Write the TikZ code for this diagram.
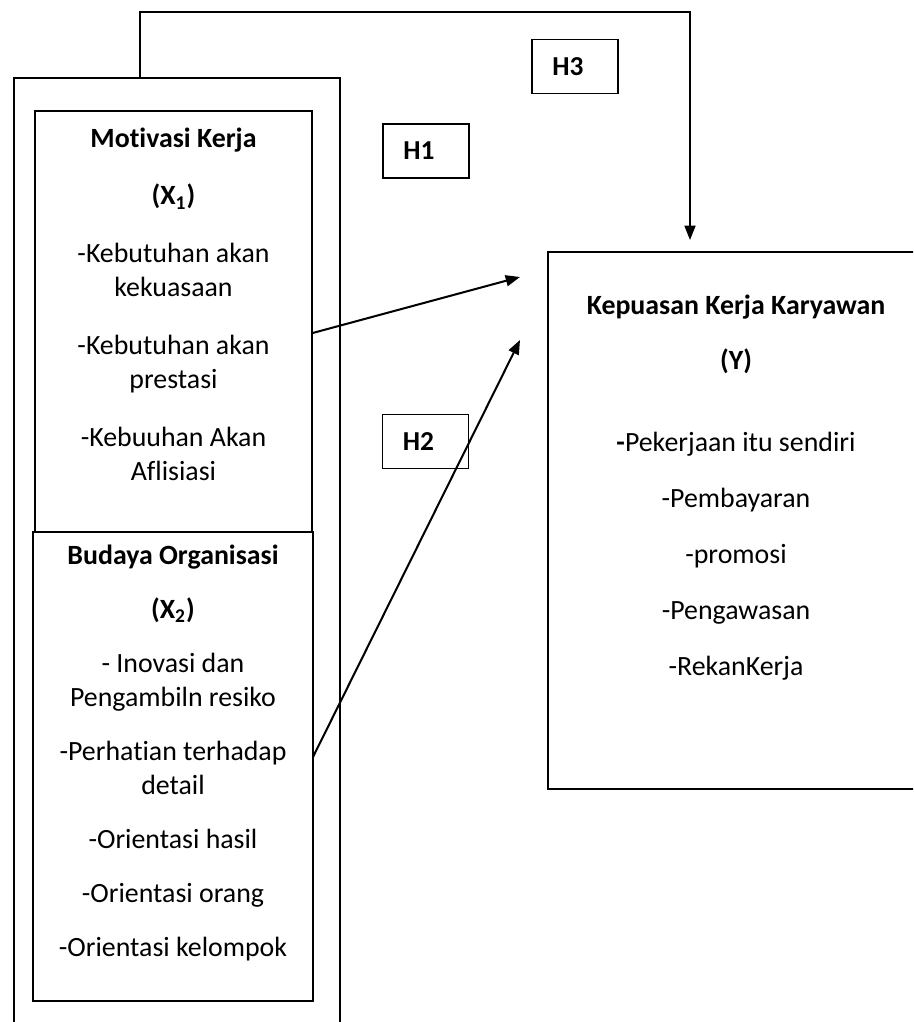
\documentclass[tikz,border=0pt]{standalone}
\usepackage{fontspec}
\setmainfont{Carlito}[Ligatures=CommonOff]
\usetikzlibrary{arrows.meta}

\begin{document}
\begin{tikzpicture}[x=0.42pt, y=-0.42pt,
  box/.style = {draw, line width=0.6pt, fill=white, inner sep=0pt},
  boxsize/.style 2 args = {minimum width=#1*0.42pt, minimum height=#2*0.42pt},
  txt/.style = {align=center, inner sep=0pt, anchor=north, font=\fontsize{11.7pt}{14.3pt}\selectfont},
  hyp/.style = {box, boxsize={86}{54}, align=left, text width=19pt, inner xsep=8.4pt,
                font=\fontsize{11.5pt}{14.3pt}\selectfont\bfseries},
  link/.style = {line width=0.85pt, -{Triangle[length=6pt, width=4.6pt]}},
  ]
  \clip (0,0) rectangle (913,1022);

  \node[box, boxsize={326}{962}] (frame) at (177,559) {};
  \node[box, boxsize={277}{421}] (mot) at (173.5,321.5) {};
  \node[box, boxsize={280}{469}] (bud) at (173,766.5) {};
  \node[box, boxsize={382}{537}] (kep) at (739,520.5) {};

  \node[txt] (mottxt) at (173.5,127) {\textbf{Motivasi Kerja}\\[10pt]
    \textbf{(X\textsubscript{1})}\\[10pt]
    -Kebutuhan akan\\kekuasaan\\[10pt]
    -Kebutuhan akan\\prestasi\\[10pt]
    -Kebuuhan Akan\\Aflisiasi};
  \node[txt] (budtxt) at (173,544) {\textbf{Budaya Organisasi}\\[8.4pt]
    \textbf{(X\textsubscript{2})}\\[8.4pt]
    - Inovasi dan\\Pengambiln resiko\\[8.4pt]
    -Perhatian terhadap\\detail\\[8.4pt]
    -Orientasi hasil\\[8.4pt]
    -Orientasi orang\\[8.4pt]
    -Orientasi kelompok};
  \node[txt] (keptxt) at (736,294) {\textbf{Kepuasan Kerja Karyawan}\\[9.2pt]
    \textbf{(Y)}\\[20pt]
    \textbf{-}Pekerjaan itu sendiri\\[9.2pt]
    -Pembayaran\\[9.2pt]
    -promosi\\[9.2pt]
    -Pengawasan\\[9.2pt]
    -RekanKerja};

  \node[hyp] (h1) at (426,151) {H1};
  \node[hyp] (h2) at (425.5,441.5) {H2};
  \node[hyp] (h3) at (575,66.5) {H3};

  \coordinate (h1end) at (520,277);
  \coordinate (h2start) at (313,757);
  \coordinate (h2end) at (520,340);
  \coordinate (up) at (140,12);
  \coordinate (over) at (690,12);
  \coordinate (down) at (690,240);

  \draw[link] (mot.east |- 0,333) -- (h1end);
  \draw[link] (h2start) -- (h2end);
  \draw[link, line width=0.7pt] (frame.north -| up) -- (up) -- (over) -- (down);
\end{tikzpicture}
\end{document}
